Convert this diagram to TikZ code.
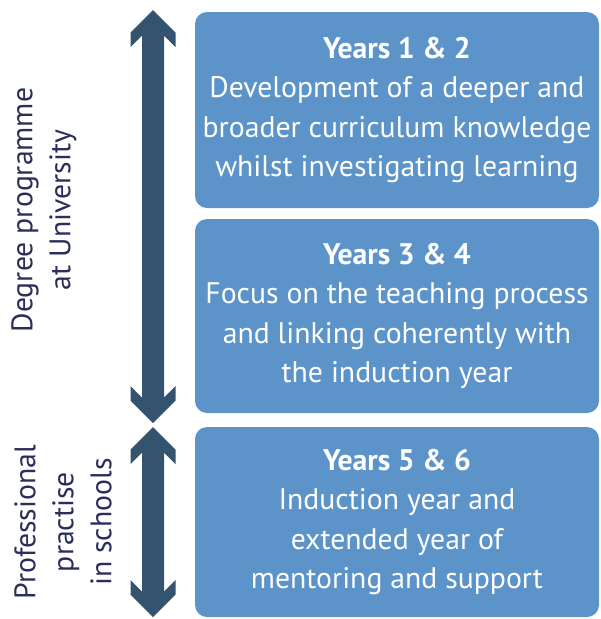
\documentclass[tikz,border=0pt]{standalone}
\usepackage{fontspec}
\setmainfont{PT Sans}
\usetikzlibrary{calc}
\definecolor{boxblue}{HTML}{5C94C9}
\definecolor{arrowblue}{HTML}{34536F}
\definecolor{labelnavy}{HTML}{2B2E5A}
\newcommand\spanarrow[2]{%
  \fill[arrowblue] (#1) -- ($(#1)+(22.5,22.5)$) -- ($(#1)+(22.5,37)$) -- ($(#1)+(11,25.5)$)
    -- ($(#2)+(11,-25.5)$) -- ($(#2)+(22.5,-37)$) -- ($(#2)+(22.5,-22.5)$) -- (#2)
    -- ($(#2)+(-22.5,-22.5)$) -- ($(#2)+(-22.5,-37)$) -- ($(#2)+(-11,-25.5)$)
    -- ($(#1)+(-11,25.5)$) -- ($(#1)+(-22.5,37)$) -- ($(#1)+(-22.5,22.5)$) -- cycle;}
\begin{document}
\begin{tikzpicture}[x=0.75pt,y=-0.75pt,
  yearbox/.style={fill=boxblue,rounded corners=9pt,minimum width=303pt,text=white,align=center,
    inner sep=0pt,font=\fontsize{22.3}{29.6}\selectfont},
  side/.style={rotate=90,align=center,text=labelnavy,font=\fontsize{22.3}{28.5}\selectfont}]
  \useasboundingbox (0,0) rectangle (601,619);

  \coordinate (unitop) at (153,10);
  \coordinate (unibot) at (153,423);
  \coordinate (schooltop) at (153,427);
  \coordinate (schoolbot) at (153,617);
  \spanarrow{unitop}{unibot}
  \spanarrow{schooltop}{schoolbot}

  \node[yearbox,minimum height=147pt] (y12) at (397,110)
    {\textbf{Years 1 \& 2}\\Development of a deeper and\\broader curriculum knowledge\\whilst investigating learning};
  \node[yearbox,minimum height=145.5pt] (y34) at (397,316)
    {\textbf{Years 3 \& 4}\\Focus on the teaching process\\and linking coherently with\\the induction year};
  \node[yearbox,minimum height=142.5pt] (y56) at (397,522)
    {\textbf{Years 5 \& 6}\\Induction year and\\extended year of\\mentoring and support};

  \node[side] (degree) at (44,210) {Degree programme\\at University};
  \node[side] (practise) at (63,522) {Professional\\practise\\in schools};
\end{tikzpicture}
\end{document}
